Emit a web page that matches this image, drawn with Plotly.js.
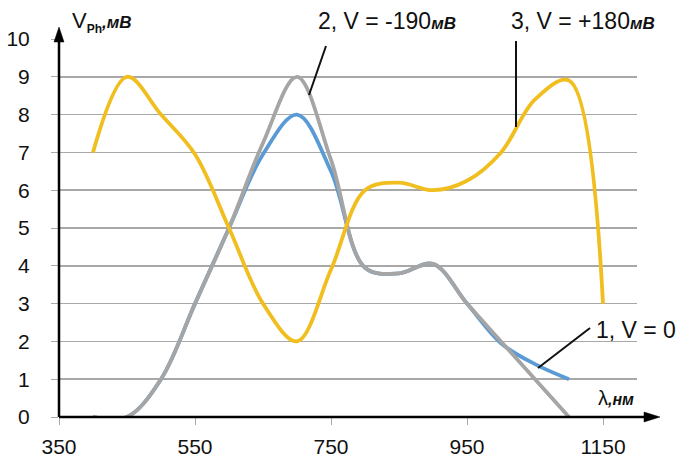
<!DOCTYPE html>
<html><head><meta charset="utf-8">
<script src="https://cdn.plot.ly/plotly-3.0.1.min.js"></script>
<style>html,body{margin:0;padding:0;background:#fff;}#chart{width:682px;height:463px;}</style>
</head><body><div id="chart"></div>
<script>
// Data
const wavelength3 = [400,450,500,550,600,650,700,750,800,850,900,950,1000,1050,1100,1150];
const curve3 = [7.0,9.0,8.0,6.95,5.0,3.0,2.0,3.9,6.0,6.2,6.0,6.25,7.0,8.4,8.9,3.0];
const wavelength12 = [400,450,500,550,600,650,700,750,800,850,900,950,1000,1050,1100];
const curve2 = [0,0,1.0,3.0,5.0,7.25,9.0,6.8,3.95,3.8,4.05,3.0,2.0,1.0,0];
const curve1 = [0,0,1.0,3.0,5.0,6.95,8.0,6.5,3.95,3.8,4.05,3.0,1.95,1.4,1.0];
const xTicks = [350,550,750,950,1150];
const yTicks = [0,1,2,3,4,5,6,7,8,9,10];

// plot area in pixels
const L=59, R=637, T=39, B=417;
const W=R-L, H=B-T;
const px = x => (x-L)/W;
const py = y => (B-y)/H;
const FONT = 'Arial, "Liberation Sans", sans-serif';

const traces = [
  {x: wavelength12, y: curve1, mode:'lines', line:{color:'#5B9BD5', width:3.8, shape:'spline', smoothing:1}, name:'1'},
  {x: wavelength12, y: curve2, mode:'lines', line:{color:'#A5A5A5', width:3.8, shape:'spline', smoothing:1}, name:'2'},
  {x: wavelength3, y: curve3, mode:'lines', line:{color:'#F0BE1E', width:3.8, shape:'spline', smoothing:1}, name:'3'}
];

const mv = s => '<b><i><span style="font-size:17px">'+s+'</span></i></b>';

const layout = {
  width:682, height:463,
  margin:{l:L, r:682-R, t:T, b:463-B, pad:0},
  paper_bgcolor:'#fff', plot_bgcolor:'#fff',
  showlegend:false,
  font:{family:FONT, color:'#111', size:21},
  xaxis:{range:[350,1200], tickvals:xTicks, ticktext:xTicks.map(String), showgrid:false, zeroline:false,
         showline:false, ticks:'outside', ticklen:7, tickcolor:'#aaa', tickwidth:1, ticklabelstandoff:4,
         tickfont:{size:21, family:FONT, color:'#111'}, fixedrange:true},
  yaxis:{range:[0,10], tickvals:yTicks, ticktext:yTicks.map(String), showgrid:true, gridcolor:'#A8A8A8', gridwidth:1.5,
         zeroline:false, showline:false, ticks:'outside', ticklen:7, tickcolor:'#aaa', tickwidth:1, ticklabelstandoff:17,
         tickfont:{size:21, family:FONT, color:'#111'}, fixedrange:true},
  shapes:[
    // axis lines
    {type:'line', xref:'paper', yref:'paper', x0:0, y0:0, x1:0, y1:py(40), line:{color:'#000', width:2.5}},
    {type:'line', xref:'paper', yref:'paper', x0:0, y0:0, x1:px(646), y1:0, line:{color:'#000', width:2.5}},
    // arrowheads
    {type:'path', xref:'paper', yref:'paper', fillcolor:'#000', line:{color:'#000', width:0.5},
     path:'M '+px(54)+' '+py(42)+' L '+px(59)+' '+py(27)+' L '+px(64)+' '+py(42)+' Z'},
    {type:'path', xref:'paper', yref:'paper', fillcolor:'#000', line:{color:'#000', width:0.5},
     path:'M '+px(644)+' '+py(412)+' L '+px(660)+' '+py(417)+' L '+px(644)+' '+py(422)+' Z'},
    // leader lines
    {type:'line', xref:'paper', yref:'paper', x0:px(326), y0:py(46), x1:px(309), y1:py(95), line:{color:'#111', width:2}},
    {type:'line', xref:'paper', yref:'paper', x0:px(516), y0:py(41), x1:px(516), y1:py(127), line:{color:'#111', width:2}},
    {type:'line', xref:'paper', yref:'paper', x0:px(590), y0:py(328), x1:px(538), y1:py(368), line:{color:'#111', width:2}}
  ],
  annotations:[
    {xref:'paper', yref:'paper', x:px(70), y:py(22), xanchor:'left', yanchor:'middle', showarrow:false,
     text:'V<sub><b><span style="font-size:12px">Ph</span></b></sub><b><i><span style="font-size:17px">,мВ</span></i></b>', font:{size:22, family:FONT, color:'#111'}},
    {xref:'paper', yref:'paper', x:px(316), y:py(21), xanchor:'left', yanchor:'middle', showarrow:false,
     text:'2, V = -190'+mv('мВ'), font:{size:23, family:FONT, color:'#111'}},
    {xref:'paper', yref:'paper', x:px(509), y:py(21), xanchor:'left', yanchor:'middle', showarrow:false,
     text:'3, V = +180'+mv('мВ'), font:{size:23, family:FONT, color:'#111'}},
    {xref:'paper', yref:'paper', x:px(594), y:py(330), xanchor:'left', yanchor:'middle', showarrow:false,
     text:'1, V = 0', font:{size:23, family:FONT, color:'#111'}},
    {xref:'paper', yref:'paper', x:px(596), y:py(398), xanchor:'left', yanchor:'middle', showarrow:false,
     text:'λ<b><i><span style="font-size:16px">,нм</span></i></b>', font:{size:20, family:FONT, color:'#111'}}
  ]
};

Plotly.newPlot('chart', traces, layout, {staticPlot:true, displayModeBar:false});
</script>
</body></html>
